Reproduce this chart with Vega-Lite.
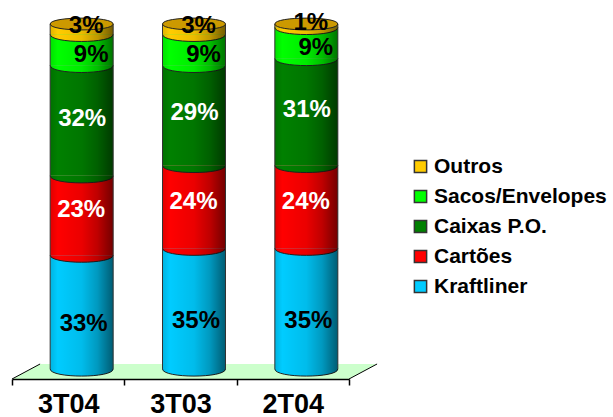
{"$schema":"https://vega.github.io/schema/vega-lite/v6.json","width":337,"height":369,"autosize":"none","padding":{"left":12,"top":10,"right":264,"bottom":38},"background":"white","config":{"view":{"stroke":null},"font":"Liberation Sans"},
"layer":[
{"data":{"values":[{"fx":0,"a":-2.9,"b":-2.9},{"fx":0.25,"a":1.45,"b":-2.9},{"fx":3,"a":1.45,"b":-2.9},{"fx":3.25,"a":1.45,"b":1.45}]},"mark":{"type":"area","color":"#ccffcc","clip":false},"encoding":{"x":{"field":"fx","type":"quantitative","axis":null,"scale":{"domain":[0,3],"nice":false,"zero":false}},"y":{"field":"a","type":"quantitative","axis":null,"scale":{"domain":[-2.9,104.06],"nice":false,"zero":false}},"y2":{"field":"b"}}},
{"data":{"values":[{"fx":0,"fy":-2.9,"edge":"l"},{"fx":0.25,"fy":1.45,"edge":"l"},{"fx":3,"fy":-2.9,"edge":"r"},{"fx":3.25,"fy":1.45,"edge":"r"}]},"mark":{"type":"line","color":"#000","strokeWidth":1,"clip":false},"encoding":{"x":{"field":"fx","type":"quantitative","axis":null,"scale":{"domain":[0,3],"nice":false,"zero":false}},"y":{"field":"fy","type":"quantitative","axis":null,"scale":{"domain":[-2.9,104.06],"nice":false,"zero":false}},"detail":{"field":"edge"}}},
{"data":{"values":[
{"periodo":"3T04","segmento":"Kraftliner","ordem":1,"valor":33},{"periodo":"3T04","segmento":"Cartões","ordem":2,"valor":23},{"periodo":"3T04","segmento":"Caixas P.O.","ordem":3,"valor":32},{"periodo":"3T04","segmento":"Sacos/Envelopes","ordem":4,"valor":9},{"periodo":"3T04","segmento":"Outros","ordem":5,"valor":3},
{"periodo":"3T03","segmento":"Kraftliner","ordem":1,"valor":35},{"periodo":"3T03","segmento":"Cartões","ordem":2,"valor":24},{"periodo":"3T03","segmento":"Caixas P.O.","ordem":3,"valor":29},{"periodo":"3T03","segmento":"Sacos/Envelopes","ordem":4,"valor":9},{"periodo":"3T03","segmento":"Outros","ordem":5,"valor":3},
{"periodo":"2T04","segmento":"Kraftliner","ordem":1,"valor":35},{"periodo":"2T04","segmento":"Cartões","ordem":2,"valor":24},{"periodo":"2T04","segmento":"Caixas P.O.","ordem":3,"valor":31},{"periodo":"2T04","segmento":"Sacos/Envelopes","ordem":4,"valor":9},{"periodo":"2T04","segmento":"Outros","ordem":5,"valor":1}
]},
"transform":[{"stack":"valor","groupby":["periodo"],"sort":[{"field":"ordem","order":"ascending"}],"as":["y0","y1"]},{"calculate":"(datum.y0+datum.y1)/2","as":"mid"},{"calculate":"datum.valor+'%'","as":"rotulo"}],
"encoding":{"x":{"field":"periodo","type":"nominal","sort":["3T04","3T03","2T04"],"scale":{"type":"band","paddingInner":0,"paddingOuter":0},"axis":{"title":null,"labelAngle":0,"tickBand":"extent","tickSize":6,"tickColor":"#000","tickWidth":1.5,"domainColor":"#000","domainWidth":1.5,"labelFontSize":27,"labelFontWeight":"bold","labelColor":"#000","labelFont":"Liberation Sans","labelPadding":6,"grid":false,"zindex":1}}},
"layer":[
{"mark":{"type":"bar","width":63,"xOffset":13.5},"encoding":{"y":{"field":"y0","type":"quantitative","axis":null,"scale":{"domain":[-2.9,104.06],"nice":false,"zero":false}},"y2":{"field":"y1"},"color":{"field":"segmento","type":"nominal","title":null,"scale":{"domain":["Outros","Sacos/Envelopes","Caixas P.O.","Cartões","Kraftliner"],"range":["#ffcc00","#00ff00","#008000","#ff0000","#00ccff"]},"legend":{"orient":"none","legendX":398,"legendY":146,"symbolType":"square","symbolSize":150,"symbolStrokeColor":"#333","symbolStrokeWidth":1.5,"symbolOpacity":1,"labelFontSize":21,"labelFontWeight":"bold","labelFont":"Liberation Sans","labelColor":"#000","rowPadding":8,"labelOffset":3,"labelLimit":220}}}},
{"mark":{"type":"point","filled":true,"opacity":1,"shape":"M-1,0 C-1,0.3 1,0.3 1,0","size":3969,"xOffset":13.5,"stroke":"#222","strokeWidth":1},"encoding":{"y":{"field":"y0","type":"quantitative"},"color":{"field":"segmento","type":"nominal","legend":null}}},
{"transform":[{"aggregate":[{"op":"sum","field":"valor","as":"total"}],"groupby":["periodo"]}],"layer":[
{"mark":{"type":"bar","width":63,"xOffset":13.5,"color":{"gradient":"linear","x1":0,"x2":1,"y1":0,"y2":0,"stops":[{"offset":0,"color":"rgba(0,0,0,0.12)"},{"offset":0.12,"color":"rgba(0,0,0,0)"},{"offset":0.5,"color":"rgba(0,0,0,0.08)"},{"offset":0.75,"color":"rgba(0,0,0,0.25)"},{"offset":1,"color":"rgba(0,0,0,0.55)"}]}},"encoding":{"y":{"field":"total","type":"quantitative"},"y2":{"datum":0}}},
{"mark":{"type":"point","filled":true,"opacity":1,"shape":"M-1,0 C-1,0.3 1,0.3 1,0","size":3969,"xOffset":13.5,"color":{"gradient":"linear","x1":0,"x2":1,"y1":0,"y2":0,"stops":[{"offset":0,"color":"rgba(0,0,0,0.12)"},{"offset":0.12,"color":"rgba(0,0,0,0)"},{"offset":0.5,"color":"rgba(0,0,0,0.08)"},{"offset":0.75,"color":"rgba(0,0,0,0.25)"},{"offset":1,"color":"rgba(0,0,0,0.55)"}]}},"encoding":{"y":{"datum":0,"type":"quantitative"}}},
{"mark":{"type":"rule","xOffset":-18,"color":"#333","strokeWidth":1},"encoding":{"y":{"field":"total","type":"quantitative"},"y2":{"datum":0}}},
{"mark":{"type":"rule","xOffset":45,"color":"#333","strokeWidth":1},"encoding":{"y":{"field":"total","type":"quantitative"},"y2":{"datum":0}}},
{"mark":{"type":"point","filled":true,"opacity":1,"shape":"M-1,0 C-1,-0.25 1,-0.25 1,0 C1,0.25 -1,0.25 -1,0Z","size":3969,"xOffset":13.5,"color":"#cc9900","stroke":"#222","strokeWidth":1},"encoding":{"y":{"field":"total","type":"quantitative"}}}
]},
{"transform":[{"filter":"datum.segmento==='Kraftliner'"}],"mark":{"type":"text","font":"Liberation Sans","fontSize":24,"fontWeight":"bold","color":"#000","xOffset":15.5,"dy":12},"encoding":{"y":{"field":"mid","type":"quantitative"},"text":{"field":"rotulo"}}},
{"transform":[{"filter":"datum.segmento==='Cartões'"}],"mark":{"type":"text","font":"Liberation Sans","fontSize":24,"fontWeight":"bold","color":"#fff","xOffset":13,"dy":-5},"encoding":{"y":{"field":"mid","type":"quantitative"},"text":{"field":"rotulo"}}},
{"transform":[{"filter":"datum.segmento==='Caixas P.O.'"}],"mark":{"type":"text","font":"Liberation Sans","fontSize":24,"fontWeight":"bold","color":"#fff","xOffset":14,"dy":-2},"encoding":{"y":{"field":"mid","type":"quantitative"},"text":{"field":"rotulo"}}},
{"transform":[{"filter":"datum.segmento==='Sacos/Envelopes'"}],"mark":{"type":"text","font":"Liberation Sans","fontSize":24,"fontWeight":"bold","color":"#000","xOffset":23,"dy":5},"encoding":{"y":{"field":"mid","type":"quantitative"},"text":{"field":"rotulo"}}},
{"transform":[{"filter":"datum.segmento==='Outros'"}],"mark":{"type":"text","font":"Liberation Sans","fontSize":24,"fontWeight":"bold","color":"#000","xOffset":18,"dy":-3},"encoding":{"y":{"field":"mid","type":"quantitative"},"text":{"field":"rotulo"}}}
]}
],
"resolve":{"scale":{"x":"independent"}}}
